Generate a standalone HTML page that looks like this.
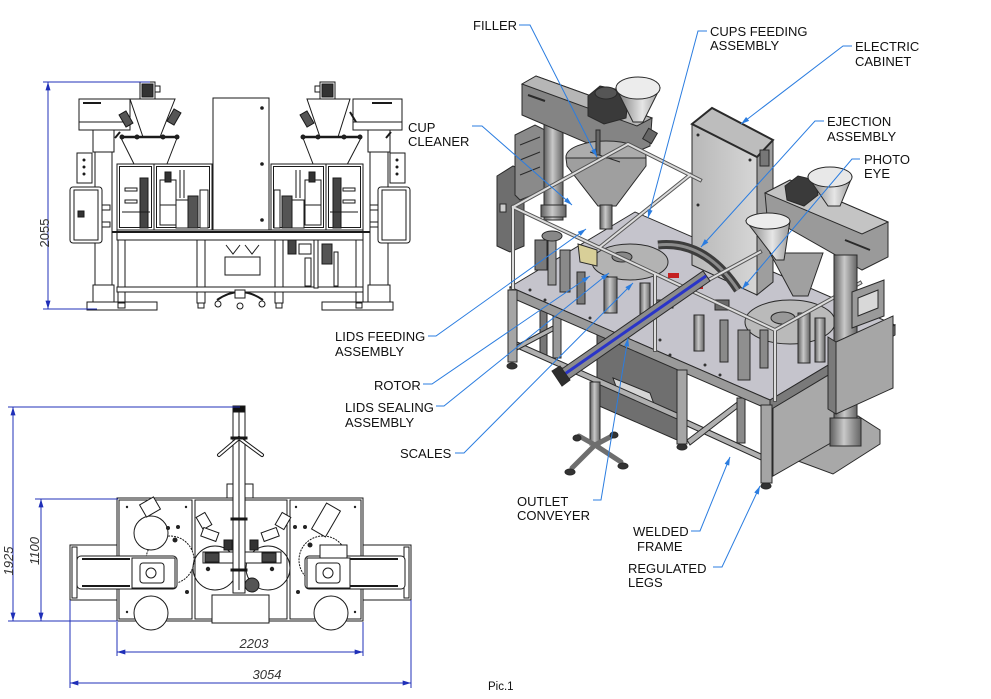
<!DOCTYPE html>
<html><head><meta charset="utf-8"><style>
html,body{margin:0;padding:0;background:#fff;}
svg{display:block;}
.lb{font-family:"Liberation Sans",Arial,sans-serif;font-size:13px;fill:#111;}
.dm{font-family:"Liberation Sans",Arial,sans-serif;font-size:13px;fill:#333;font-style:italic;}
.ld{stroke:#2b7de0;stroke-width:1;fill:none;}
.dl{stroke:#2230b8;stroke-width:1;fill:none;}
</style></head><body>
<svg width="991" height="699" viewBox="0 0 991 699" xmlns="http://www.w3.org/2000/svg">
<defs>
<marker id="la" viewBox="0 0 10 6" refX="10" refY="3" markerWidth="9" markerHeight="5" markerUnits="userSpaceOnUse" orient="auto"><path d="M0,0L10,3L0,6z" fill="#2b7de0"/></marker>
<marker id="da" viewBox="0 0 10 6" refX="10" refY="3" markerWidth="10" markerHeight="5" markerUnits="userSpaceOnUse" orient="auto-start-reverse"><path d="M0,0L10,3L0,6z" fill="#1f2fb8"/></marker>
<linearGradient id="cyl" x1="0" x2="1" y1="0" y2="0"><stop offset="0" stop-color="#5e5e5e"/><stop offset=".45" stop-color="#c9c9c9"/><stop offset="1" stop-color="#646464"/></linearGradient>
<linearGradient id="fun" x1="0" x2="1" y1="0" y2="0"><stop offset="0" stop-color="#777"/><stop offset=".6" stop-color="#e6e6e6"/><stop offset="1" stop-color="#999"/></linearGradient>
<linearGradient id="cab" x1="0" x2="1" y1="0" y2="0"><stop offset="0" stop-color="#b8b8b8"/><stop offset="1" stop-color="#d6d6d6"/></linearGradient>
</defs>

<!-- ============ FRONT VIEW ============ -->
<g stroke="#1a1a1a" stroke-width="1" fill="#fff">
 <rect x="79" y="99" width="51" height="31"/>
 <line x1="79" y1="122" x2="130" y2="122"/>
 <line x1="83" y1="103" x2="101" y2="103" stroke-width="2"/>
 <rect x="353" y="99" width="49" height="31"/>
 <line x1="353" y1="122" x2="402" y2="122"/>
 <line x1="372" y1="103" x2="392" y2="103" stroke-width="2"/>
 <rect x="140" y="82" width="15" height="17"/>
 <rect x="142" y="84" width="11" height="13" fill="#333"/>
 <rect x="155" y="86" width="5" height="6"/>
 <rect x="320" y="82" width="15" height="17"/>
 <rect x="322" y="84" width="11" height="13" fill="#333"/>
 <rect x="315" y="86" width="5" height="6"/>
 <polygon points="130,99 175,99 160,137 143,137"/>
 <line x1="120" y1="137" x2="178" y2="137" stroke-width="2.5"/>
 <line x1="121" y1="138" x2="143" y2="182"/>
 <line x1="177" y1="138" x2="160" y2="182"/>
 <rect x="122" y="112" width="8" height="14" transform="rotate(-30 126 119)" fill="#555"/>
 <rect x="170" y="110" width="8" height="14" transform="rotate(30 174 117)" fill="#555"/>
 <polygon points="307,99 350,99 338,137 320,137"/>
 <line x1="302" y1="137" x2="362" y2="137" stroke-width="2.5"/>
 <line x1="303" y1="138" x2="320" y2="182"/>
 <line x1="361" y1="138" x2="338" y2="182"/>
 <rect x="303" y="112" width="8" height="14" transform="rotate(-30 307 119)" fill="#555"/>
 <line x1="350" y1="112" x2="356" y2="122" stroke-width="2"/>
 <circle cx="122" cy="137" r="2" fill="#222"/><circle cx="137" cy="137" r="2" fill="#222"/><circle cx="163" cy="137" r="2" fill="#222"/><circle cx="177" cy="137" r="2" fill="#222"/>
 <circle cx="303" cy="137" r="2" fill="#222"/><circle cx="318" cy="137" r="2" fill="#222"/><circle cx="344" cy="137" r="2" fill="#222"/><circle cx="360" cy="137" r="2" fill="#222"/>
 <rect x="213" y="98" width="56" height="134"/>
 <circle cx="262" cy="108" r="1.3" fill="#222"/><circle cx="262" cy="164" r="1.3" fill="#222"/><circle cx="262" cy="220" r="1.3" fill="#222"/>
 <rect x="117" y="164" width="37" height="66"/><rect x="119.5" y="166.5" width="32" height="61"/>
 <rect x="154" y="164" width="58" height="66"/><rect x="156.5" y="166.5" width="53" height="61"/>
 <rect x="271" y="164" width="55" height="66"/><rect x="273.5" y="166.5" width="50" height="61"/>
 <rect x="326" y="164" width="37" height="66"/><rect x="328.5" y="166.5" width="32" height="61"/>
 <!-- internal mechanisms -->
 <rect x="140" y="178" width="8" height="50" fill="#444"/>
 <rect x="125" y="188" width="12" height="3"/><rect x="125" y="200" width="12" height="3"/>
 <rect x="160" y="180" width="16" height="45"/>
 <rect x="165" y="172" width="6" height="10" fill="#333"/>
 <rect x="176" y="200" width="14" height="28"/>
 <rect x="188" y="196" width="10" height="32" fill="#555"/>
 <rect x="200" y="190" width="8" height="38"/>
 <line x1="180" y1="170" x2="180" y2="198"/><line x1="184" y1="170" x2="184" y2="198"/>
 <line x1="122" y1="212" x2="150" y2="212"/><line x1="160" y1="205" x2="176" y2="205"/>
 <rect x="333" y="178" width="8" height="50" fill="#444"/>
 <rect x="343" y="188" width="12" height="3"/><rect x="343" y="200" width="12" height="3"/>
 <rect x="305" y="180" width="16" height="45"/>
 <rect x="309" y="172" width="6" height="10" fill="#333"/>
 <rect x="290" y="200" width="14" height="28"/>
 <rect x="282" y="196" width="10" height="32" fill="#555"/>
 <rect x="274" y="190" width="6" height="38"/>
 <line x1="296" y1="170" x2="296" y2="198"/><line x1="300" y1="170" x2="300" y2="198"/>
 <line x1="330" y1="212" x2="358" y2="212"/><line x1="305" y1="205" x2="321" y2="205"/>
 <!-- table -->
 <rect x="117" y="230" width="246" height="10"/>
 <line x1="70" y1="232" x2="410" y2="232" stroke-width="2"/>
 <rect x="118" y="240" width="7" height="63"/>
 <rect x="197" y="240" width="8" height="63"/>
 <rect x="275" y="240" width="8" height="63"/>
 <rect x="356" y="240" width="7" height="63"/>
 <rect x="117" y="287" width="246" height="5"/>
 <rect x="205" y="240" width="70" height="47"/>
 <rect x="225" y="257" width="35" height="18"/>
 <polyline points="226,245 233,254 240,245" fill="none"/>
 <polyline points="245,245 252,254 259,245" fill="none"/>
 <rect x="288" y="240" width="8" height="14" fill="#444"/>
 <rect x="299" y="244" width="12" height="10"/>
 <rect x="314" y="240" width="4" height="48"/>
 <rect x="322" y="244" width="10" height="20" fill="#555"/>
 <rect x="334" y="252" width="4" height="34"/>
 <rect x="305" y="258" width="6" height="28"/>
 <!-- columns -->
 <rect x="95" y="130" width="17" height="173"/>
 <rect x="93" y="130" width="21" height="22"/>
 <rect x="93" y="285" width="21" height="17"/>
 <rect x="370" y="130" width="18" height="173"/>
 <rect x="368" y="130" width="22" height="22"/>
 <rect x="368" y="285" width="22" height="17"/>
 <line x1="115" y1="138" x2="120" y2="132" stroke-width="2"/>
 <line x1="386" y1="138" x2="391" y2="132" stroke-width="2"/>
 <!-- electric boxes -->
 <rect x="77" y="153" width="15" height="30"/>
 <circle cx="84" cy="160" r="1" fill="#222"/><circle cx="84" cy="167" r="1" fill="#222"/><circle cx="84" cy="174" r="1" fill="#222"/>
 <rect x="70" y="187" width="32" height="56" rx="3"/>
 <rect x="74" y="190" width="24" height="50"/>
 <rect x="78" y="211" width="6" height="6" fill="#333"/>
 <rect x="102" y="205" width="8" height="5"/><rect x="102" y="222" width="8" height="5"/>
 <rect x="390" y="153" width="15" height="30"/>
 <circle cx="397" cy="160" r="1" fill="#222"/><circle cx="397" cy="167" r="1" fill="#222"/><circle cx="397" cy="174" r="1" fill="#222"/>
 <rect x="378" y="187" width="32" height="56" rx="3"/>
 <rect x="382" y="190" width="24" height="50"/>
 <rect x="370" y="205" width="8" height="5"/><rect x="370" y="222" width="8" height="5"/>
 <!-- feet -->
 <rect x="87" y="302" width="70" height="8"/>
 <rect x="322" y="302" width="71" height="8"/>
 <rect x="118" y="303" width="7" height="5"/><rect x="198" y="303" width="6" height="5"/><rect x="276" y="303" width="6" height="5"/><rect x="356" y="303" width="6" height="5"/>
 <path d="M217,300 Q240,284 263,300" fill="none" stroke-width="2"/>
 <rect x="235" y="290" width="10" height="8"/>
 <circle cx="218" cy="304" r="3"/><circle cx="240" cy="306" r="3"/><circle cx="262" cy="304" r="3"/>
</g>
<!-- dim 2055 -->
<line x1="43" y1="82" x2="150" y2="82" class="dl"/>
<line x1="43" y1="309" x2="97" y2="309" class="dl"/>
<line x1="48" y1="82" x2="48" y2="309" class="dl" marker-start="url(#da)" marker-end="url(#da)"/>
<text x="0" y="0" class="dm" style="font-style:normal" transform="translate(49,233) rotate(-90)" text-anchor="middle">2055</text>

<!-- ============ TOP VIEW ============ -->
<g stroke="#1a1a1a" stroke-width="1" fill="#fff">
 <rect x="227" y="484" width="26" height="14"/>
 <rect x="117" y="498" width="246" height="123"/>
 <rect x="119" y="500" width="73" height="119"/>
 <rect x="195" y="500" width="92" height="119"/>
 <rect x="290" y="500" width="71" height="119"/>
 <circle cx="170" cy="560" r="24" stroke-dasharray="2,1"/>
 <circle cx="323" cy="560" r="24" stroke-dasharray="2,1"/>
 <circle cx="215" cy="568" r="22" fill="none"/>
 <circle cx="268" cy="568" r="22" fill="none"/>
 <rect x="70" y="545" width="47" height="55"/>
 <rect x="363" y="545" width="48" height="55"/>
 <rect x="72" y="547" width="5" height="51"/><rect x="404" y="547" width="5" height="51"/>
 <rect x="77" y="556" width="100" height="33" rx="4"/>
 <line x1="82" y1="559" x2="130" y2="559" stroke-width="2"/><line x1="82" y1="586" x2="130" y2="586" stroke-width="2"/>
 <rect x="132" y="558" width="43" height="30"/>
 <rect x="140" y="563" width="24" height="20" rx="3"/>
 <circle cx="151" cy="573" r="5"/>
 <rect x="305" y="556" width="100" height="33" rx="4"/>
 <line x1="350" y1="559" x2="398" y2="559" stroke-width="2"/><line x1="350" y1="586" x2="398" y2="586" stroke-width="2"/>
 <rect x="307" y="558" width="43" height="30"/>
 <rect x="316" y="563" width="24" height="20" rx="3"/>
 <circle cx="328" cy="573" r="5"/>
 <rect x="320" y="545" width="27" height="13"/>
 <circle cx="151" cy="533" r="17"/>
 <circle cx="151" cy="613" r="17"/>
 <circle cx="331" cy="613" r="17"/>
 <rect x="142" y="500" width="16" height="14" transform="rotate(-30 150 507)"/>
 <rect x="318" y="505" width="16" height="30" transform="rotate(30 326 520)"/>
 <rect x="199" y="514" width="10" height="14" transform="rotate(-30 204 521)"/>
 <rect x="278" y="514" width="10" height="14" transform="rotate(30 283 521)"/>
 <rect x="202" y="530" width="16" height="9" transform="rotate(20 210 534)"/>
 <rect x="262" y="530" width="16" height="9" transform="rotate(-20 270 534)"/>
 <rect x="203" y="552" width="78" height="11"/>
 <rect x="205" y="553" width="14" height="9" fill="#444"/>
 <rect x="262" y="553" width="14" height="9" fill="#444"/>
 <rect x="224" y="540" width="8" height="10" fill="#333"/>
 <rect x="250" y="540" width="8" height="10" fill="#333"/>
 <rect x="212" y="595" width="57" height="28"/>
 <circle cx="252" cy="585" r="7" fill="#555"/>
 <rect x="233" y="407" width="12" height="186"/>
 <line x1="239" y1="412" x2="239" y2="590"/>
 <rect x="233" y="406" width="12" height="6" fill="#111"/>
 <path d="M239,438 L219,455 M239,438 L262,455" stroke-width="4" stroke-linecap="round"/>
 <path d="M239,438 L219,455 M239,438 L262,455" stroke="#fff" stroke-width="2" stroke-linecap="round"/>
 <rect x="231" y="437" width="16" height="2" fill="#111"/>
 <rect x="231" y="518" width="16" height="2" fill="#111"/>
 <rect x="231" y="569" width="16" height="2" fill="#111"/>
 <g fill="#222" stroke="none">
  <circle cx="127" cy="507" r="1.2"/><circle cx="186" cy="507" r="1.2"/><circle cx="127" cy="612" r="1.2"/>
  <circle cx="355" cy="507" r="1.2"/><circle cx="296" cy="507" r="1.2"/><circle cx="355" cy="612" r="1.2"/>
  <circle cx="168" cy="528" r="2"/><circle cx="178" cy="527" r="2"/><circle cx="305" cy="527" r="2"/><circle cx="295" cy="527" r="2"/>
  <circle cx="208" cy="569" r="2.2"/><circle cx="272" cy="569" r="2.2"/><circle cx="187" cy="592" r="2"/><circle cx="298" cy="592" r="2"/>
  <circle cx="175" cy="540" r="2.5"/><circle cx="310" cy="545" r="2.5"/>
 </g>
</g>
<!-- top view dims -->
<line x1="8" y1="407" x2="240" y2="407" class="dl"/>
<line x1="8" y1="621" x2="118" y2="621" class="dl"/>
<line x1="13" y1="407" x2="13" y2="621" class="dl" marker-start="url(#da)" marker-end="url(#da)"/>
<text class="dm" transform="translate(13,561) rotate(-90)" text-anchor="middle">1925</text>
<line x1="35" y1="499" x2="118" y2="499" class="dl"/>
<line x1="41" y1="499" x2="41" y2="621" class="dl" marker-start="url(#da)" marker-end="url(#da)"/>
<text class="dm" transform="translate(39,551) rotate(-90)" text-anchor="middle">1100</text>
<line x1="117" y1="622" x2="117" y2="656" class="dl"/>
<line x1="363" y1="622" x2="363" y2="656" class="dl"/>
<line x1="117" y1="652" x2="363" y2="652" class="dl" marker-start="url(#da)" marker-end="url(#da)"/>
<text x="254" y="648" class="dm" text-anchor="middle">2203</text>
<line x1="70" y1="600" x2="70" y2="688" class="dl"/>
<line x1="411" y1="600" x2="411" y2="688" class="dl"/>
<line x1="70" y1="683" x2="411" y2="683" class="dl" marker-start="url(#da)" marker-end="url(#da)"/>
<text x="267" y="679" class="dm" text-anchor="middle">3054</text>

<!-- ============ 3D RENDER ============ -->
<g stroke="#2a2a2a" stroke-width="1">
 <!-- base plate right -->
 <polygon points="790,448 858,416 880,430 880,444 833,474 790,458" fill="#a8a8a8"/>
 <!-- under-table back -->
 <rect x="553" y="300" width="8" height="58" fill="#9a9a9a"/>
 <rect x="540" y="310" width="7" height="45" fill="#777"/>
 <polygon points="597,333 677,368 677,440 597,405" fill="#6f6f6f"/>
 <polygon points="613,378 650,393 655,407 618,392" fill="#d6d6d6"/>
 <polygon points="773,408 850,362 850,432 773,476" fill="#a9a9a9"/>
 <polygon points="687,420 761,454 761,460 687,426" fill="#b0b0b0"/>
 <polygon points="687,440 740,400 744,403 690,445" fill="#b0b0b0"/>
 <rect x="737" y="398" width="8" height="45" fill="#8a8a8a"/>
 <!-- table -->
 <polygon points="510,287 635,212 895,325 770,400" fill="#c5c4cc"/>
 <polygon points="510,287 770,400 770,410 510,297" fill="#9a9a9a"/>
 <polygon points="770,400 895,325 895,335 770,410" fill="#7a7a7a"/>
 <!-- cabinet -->
 <polygon points="692,124 757,157 757,295 692,265" fill="url(#cab)"/>
 <polygon points="757,157 773,140 773,282 757,295" fill="#9e9e9e"/>
 <polygon points="692,124 712,108 773,140 757,157" fill="#bdbdbd" stroke-width="2"/>
 <rect x="760" y="150" width="9" height="16" fill="#777"/>
 <circle cx="698" cy="135" r="1" fill="#333"/><circle cx="750" cy="160" r="1" fill="#333"/><circle cx="698" cy="205" r="1" fill="#333"/>
 <!-- left filler -->
 <polygon points="497,176 513,166 524,171 524,246 510,252 497,246" fill="#6e6e6e"/>
 <rect x="500" y="204" width="6" height="8" fill="#ccc"/>
 <polygon points="515,135 535,125 545,130 545,190 520,200 515,195" fill="#8a8a8a"/>
 <line x1="520" y1="145" x2="540" y2="137"/><line x1="520" y1="160" x2="540" y2="152"/><line x1="520" y1="175" x2="540" y2="167"/>
 <rect x="544" y="118" width="19" height="102" fill="url(#cyl)"/>
 <rect x="541" y="205" width="25" height="12" fill="url(#cyl)"/>
 <polygon points="522,84 536,76 652,118 650,146 622,158 522,115" fill="#848484"/>
 <polygon points="522,84 536,76 652,118 637,126" fill="#b6b6b6"/>
 <line x1="528" y1="95" x2="545" y2="101" stroke-width="2"/>
 <polygon points="588,96 600,86 620,90 628,100 626,118 604,124 588,116" fill="#3a3a3a"/>
 <ellipse cx="606" cy="93" rx="11" ry="6" fill="#555"/>
 <polygon points="616,88 660,88 643,122 633,122" fill="url(#fun)"/>
 <ellipse cx="638" cy="88" rx="22" ry="11" fill="#ececec"/>
 <ellipse cx="606" cy="157" rx="40" ry="16" fill="#acacac"/>
 <polygon points="566,158 646,158 646,166 616,206 598,206 567,166" fill="#9f9f9f"/>
 <rect x="600" y="205" width="12" height="24" fill="url(#cyl)"/>
 <line x1="590" y1="152" x2="620" y2="162"/>
 <rect x="596" y="130" width="4" height="25" fill="#666"/>
 <rect x="645" y="130" width="10" height="12" fill="#666" transform="rotate(30 650 136)"/>
 <!-- mechanisms on table -->
 <ellipse cx="630" cy="262" rx="38" ry="18" fill="#b3b3b3"/>
 <ellipse cx="622" cy="257" rx="10" ry="5" fill="#888"/>
 <ellipse cx="790" cy="322" rx="45" ry="22" fill="#bababa"/>
 <ellipse cx="783" cy="318" rx="12" ry="6" fill="#999"/>
 <path d="M658,245 Q705,240 738,290" fill="none" stroke="#3d3d3d" stroke-width="9"/>
 <path d="M658,245 Q705,240 738,290" fill="none" stroke="#8c8c8c" stroke-width="3"/>
 <polygon points="578,244 597,250 597,266 580,262" fill="#d8cf98"/>
 <rect x="668" y="273" width="11" height="5" fill="#c42020" stroke="none"/>
 <rect x="692" y="284" width="11" height="5" fill="#c42020" stroke="none"/>
 <rect x="535" y="240" width="12" height="30" fill="#7a7a7a"/>
 <rect x="548" y="235" width="8" height="50" fill="#999"/>
 <ellipse cx="552" cy="236" rx="10" ry="5" fill="#888"/>
 <rect x="560" y="250" width="10" height="42" fill="#8a8a8a"/>
 <rect x="577" y="272" width="8" height="32" fill="#7a7a7a"/>
 <rect x="604" y="277" width="13" height="36" fill="url(#cyl)"/>
 <rect x="640" y="283" width="10" height="32" fill="url(#cyl)"/>
 <rect x="694" y="315" width="10" height="36" fill="url(#cyl)"/>
 <rect x="720" y="320" width="8" height="42" fill="#8a8a8a"/>
 <rect x="738" y="330" width="12" height="50" fill="#8f8f8f"/>
 <rect x="760" y="330" width="8" height="38" fill="#8a8a8a"/>
 <rect x="798" y="313" width="12" height="50" fill="url(#cyl)"/>
 <rect x="815" y="318" width="10" height="44" fill="url(#cyl)"/>
 <rect x="715" y="300" width="14" height="10" fill="#6a6a6a"/>
 <rect x="655" y="300" width="18" height="8" fill="#6a6a6a"/>
 <g fill="#333" stroke="none">
  <circle cx="530" cy="290" r="1.5"/><circle cx="545" cy="300" r="1.5"/><circle cx="590" cy="318" r="1.5"/><circle cx="660" cy="340" r="1.5"/>
  <circle cx="670" cy="355" r="1.5"/><circle cx="720" cy="375" r="1.5"/><circle cx="705" cy="365" r="1.5"/><circle cx="860" cy="345" r="1.5"/>
 </g>
 <!-- top frame rails -->
 <g fill="none" stroke-linecap="square">
  <g stroke="#555" stroke-width="4">
   <path d="M513,207 L775,330 L860,283 M513,207 L628,144 L700,180 M600,247 L690,175 M690,290 L760,252 M513,207 L513,288 M655,274 L655,350 M775,330 L775,400"/>
  </g>
  <g stroke="#dcdcdc" stroke-width="2">
   <path d="M513,207 L775,330 L860,283 M513,207 L628,144 L700,180 M600,247 L690,175 M690,290 L760,252 M513,207 L513,288 M655,274 L655,350 M775,330 L775,400"/>
  </g>
 </g>
 <!-- right filler -->
 <polygon points="770,253 823,253 808,296 793,296" fill="#a0a0a0"/>
 <polygon points="765,193 790,180 888,222 888,257 862,270 767,216" fill="#9a9a9a"/>
 <polygon points="765,193 790,180 888,222 862,234" fill="#c4c4c4"/>
 <line x1="845" y1="240" x2="870" y2="250" stroke-width="2"/>
 <polygon points="785,186 798,176 815,180 818,195 804,206 787,200" fill="#3a3a3a"/>
 <polygon points="808,177 852,177 840,206 828,206" fill="url(#fun)"/>
 <ellipse cx="830" cy="177" rx="22" ry="10" fill="#e8e8e8"/>
 <polygon points="746,221 790,221 784,260 776,260" fill="url(#fun)"/>
 <ellipse cx="768" cy="221" rx="22" ry="8" fill="#ececec"/>
 <!-- right column & boxes -->
 <rect x="834" y="255" width="23" height="190" fill="url(#cyl)"/>
 <rect x="830" y="418" width="31" height="28" fill="url(#cyl)"/>
 <polygon points="828,337 836,342 836,414 828,409" fill="#7a7a7a"/>
 <polygon points="836,342 893,316 893,388 836,414" fill="#a6a6a6"/>
 <polygon points="852,292 884,280 884,316 852,328" fill="#9a9a9a"/>
 <polygon points="858,298 878,290 878,308 858,316" fill="#d8d8d8"/>
 <!-- front legs & rails -->
 <polygon points="517,342 677,413 677,419 517,348" fill="#b0b0b0"/>
 <polygon points="517,345 553,326 553,331 517,350" fill="#b0b0b0"/>
 <rect x="508" y="290" width="9" height="72" fill="#a5a5a5"/>
 <ellipse cx="512" cy="366" rx="5" ry="3" fill="#333"/>
 <rect x="677" y="370" width="10" height="74" fill="#a5a5a5"/>
 <ellipse cx="682" cy="447" rx="5" ry="3" fill="#333"/>
 <rect x="761" y="405" width="11" height="78" fill="#a5a5a5"/>
 <ellipse cx="766" cy="486" rx="5" ry="3" fill="#333"/>
 <!-- conveyor -->
 <rect x="590" y="382" width="10" height="63" fill="url(#cyl)"/>
 <g stroke="#6e6e6e" stroke-width="5" stroke-linecap="round" fill="none">
  <path d="M595,445 L572,468 M595,445 L621,462 M595,445 L579,436 M595,445 L612,436"/>
 </g>
 <ellipse cx="570" cy="472" rx="5" ry="3" fill="#333"/><ellipse cx="623" cy="466" rx="5" ry="3" fill="#333"/>
 <ellipse cx="577" cy="438" rx="4" ry="3" fill="#333"/><ellipse cx="614" cy="435" rx="4" ry="3" fill="#333"/>
 <polygon points="556,373 703,271 710,281 563,383" fill="#8c8c8c"/>
 <line x1="559" y1="378" x2="706" y2="276" stroke="#2a35c8" stroke-width="3"/>
 <polygon points="552,371 560,366 570,380 562,386" fill="#2e2e2e"/>
</g>

<!-- ============ LEADERS ============ -->
<g class="ld">
 <polyline points="519,25 530,25 597,157" marker-end="url(#la)"/>
 <polyline points="472,126 482,126 572,205" marker-end="url(#la)"/>
 <polyline points="707,31 698,31 648,218" marker-end="url(#la)"/>
 <polyline points="852,46 843,46 741,124" marker-end="url(#la)"/>
 <polyline points="824,121 815,121 701,247" marker-end="url(#la)"/>
 <polyline points="860,159 852,159 742,289" marker-end="url(#la)"/>
 <polyline points="428,336 436,336 586,229" marker-end="url(#la)"/>
 <polyline points="423,384 432,384 590,276" marker-end="url(#la)"/>
 <polyline points="436,406 444,406 609,273" marker-end="url(#la)"/>
 <polyline points="455,453 464,453 633,283" marker-end="url(#la)"/>
 <polyline points="593,500 601,500 628,338" marker-end="url(#la)"/>
 <polyline points="691,531 700,531 730,457" marker-end="url(#la)"/>
 <polyline points="713,567 722,567 760,486" marker-end="url(#la)"/>
</g>

<!-- ============ LABELS ============ -->
<g class="lb">
 <text x="473" y="30">FILLER</text>
 <text x="408" y="132">CUP</text><text x="408" y="146">CLEANER</text>
 <text x="710" y="36">CUPS FEEDING</text><text x="710" y="50">ASSEMBLY</text>
 <text x="855" y="51">ELECTRIC</text><text x="855" y="66">CABINET</text>
 <text x="827" y="126">EJECTION</text><text x="827" y="141">ASSEMBLY</text>
 <text x="864" y="164">PHOTO</text><text x="864" y="178">EYE</text>
 <text x="335" y="341">LIDS FEEDING</text><text x="335" y="356">ASSEMBLY</text>
 <text x="374" y="390">ROTOR</text>
 <text x="345" y="412">LIDS SEALING</text><text x="345" y="427">ASSEMBLY</text>
 <text x="400" y="458">SCALES</text>
 <text x="517" y="506">OUTLET</text><text x="517" y="520">CONVEYER</text>
 <text x="633" y="536">WELDED</text><text x="637" y="551">FRAME</text>
 <text x="628" y="573">REGULATED</text><text x="628" y="587">LEGS</text>
 <text x="488" y="690" style="font-size:11.5px">Pic.1</text>
</g>
</svg>
</body></html>
